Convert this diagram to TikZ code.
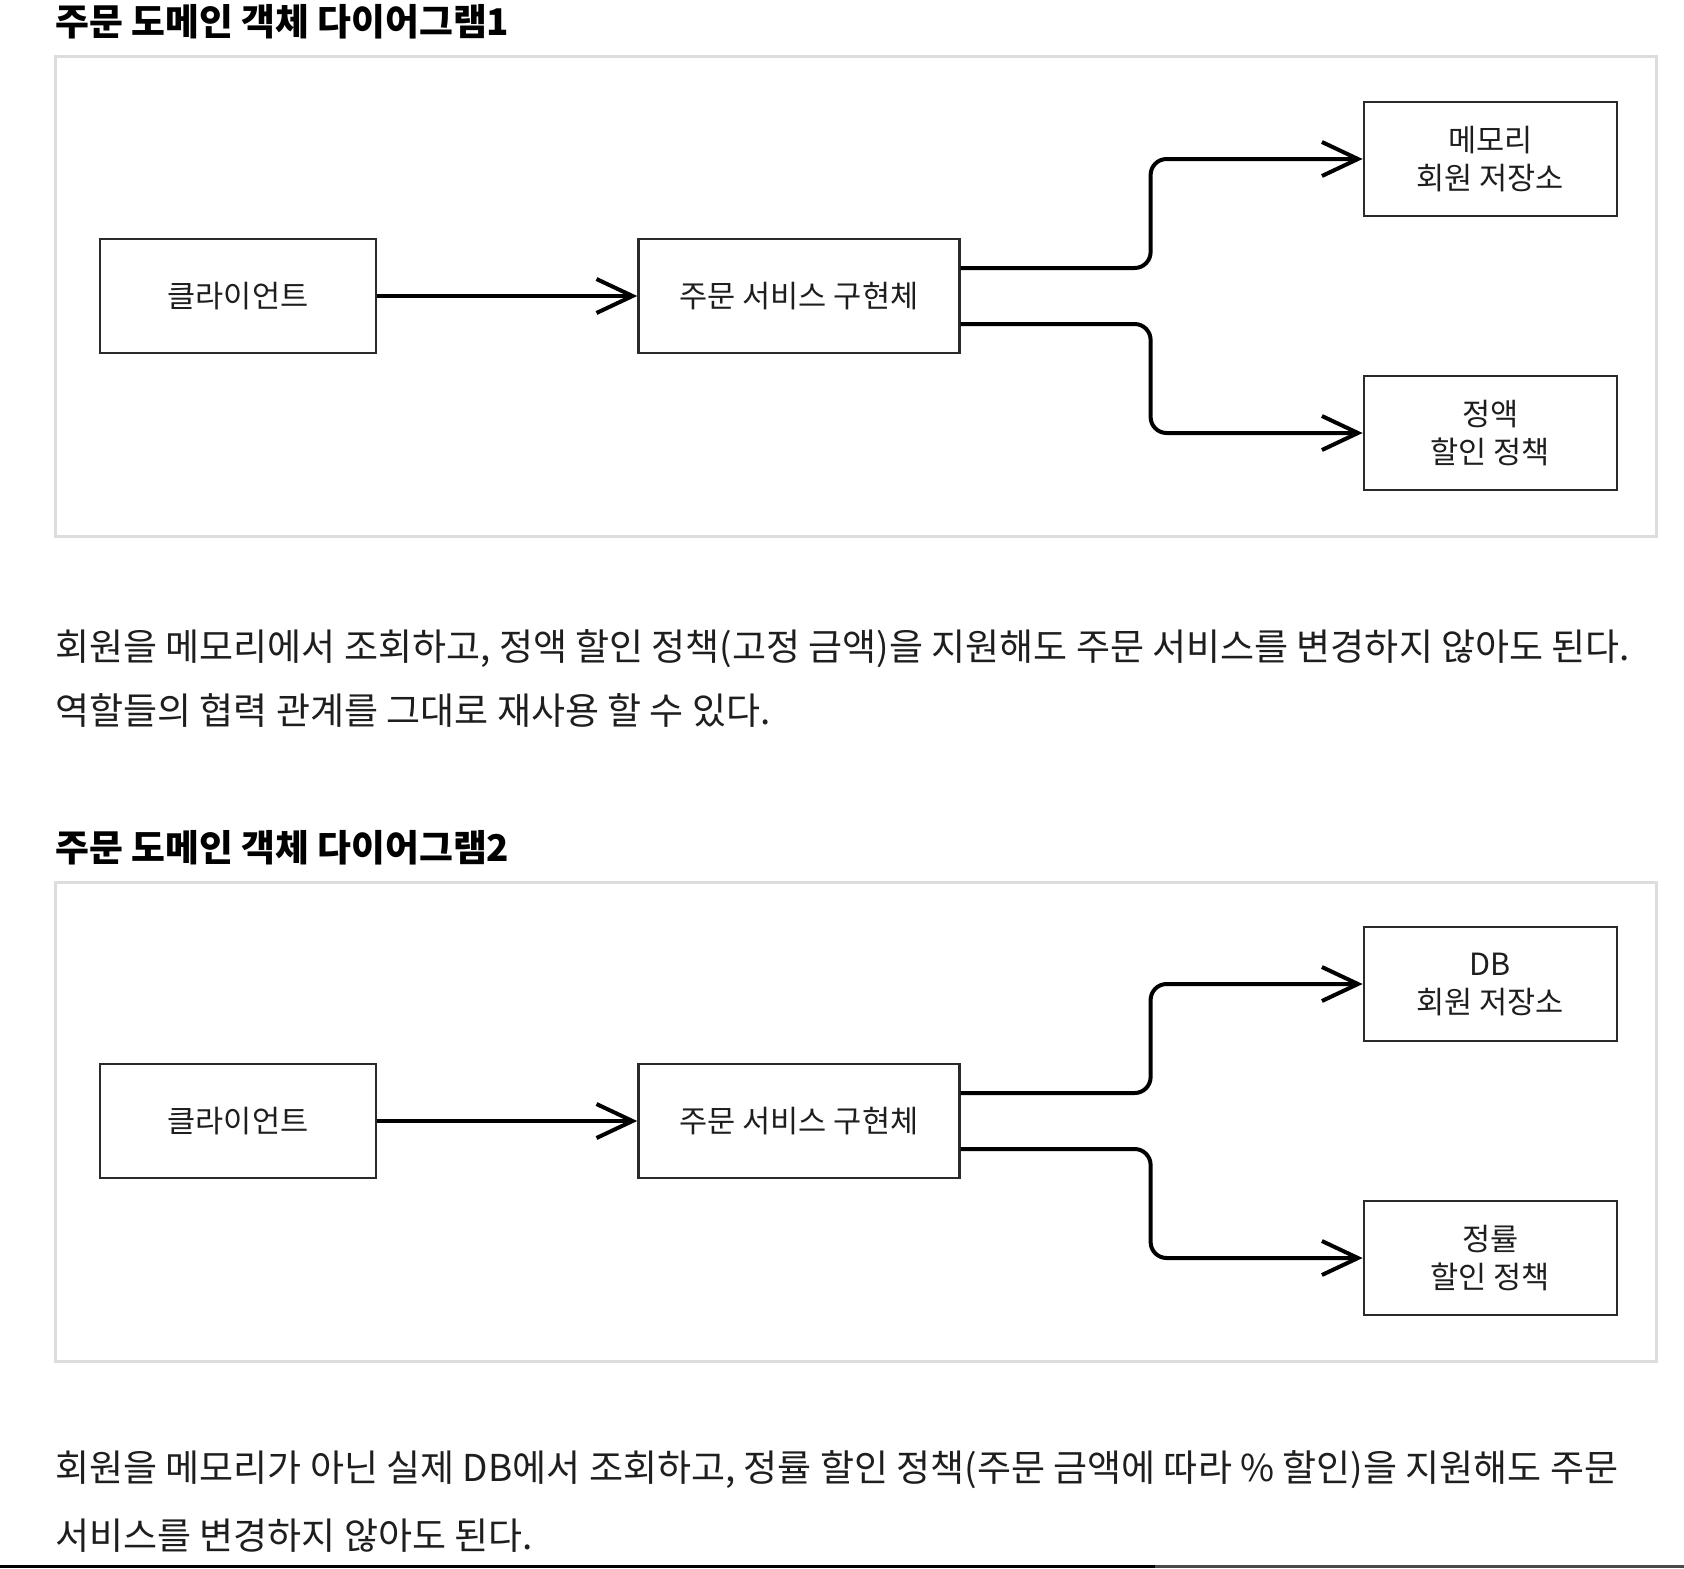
\documentclass[tikz,border=0pt]{standalone}
\usepackage{fontspec}
\setmainfont{Noto Sans CJK KR}
\usetikzlibrary{arrows.meta, positioning}
\definecolor{panelgray}{HTML}{DDDDDD}
\definecolor{boxline}{HTML}{2A2A2A}
\definecolor{inktext}{HTML}{1E1E1E}
\definecolor{barrest}{HTML}{4A4A4A}

\begin{document}
\begin{tikzpicture}[x=0.5pt, y=-0.5pt,
    node distance=130pt,
    box/.style={rectangle, draw=boxline, line width=1.2pt,
                minimum width=138pt, minimum height=57pt,
                text centered, align=center, text=inktext,
                font=\fontsize{15.3pt}{19pt}\selectfont},
    store/.style={box, minimum width=126.5pt},
    panel/.style={draw=panelgray, line width=1.5pt},
    arr/.style={-{Straight Barb[length=18pt, width=17pt]}, line width=2pt},
    heading/.style={anchor=base west, inner sep=0pt,
                    font=\fontsize{18.4pt}{22pt}\selectfont\bfseries},
    para/.style={anchor=base west, inner sep=0pt, text=inktext,
                 font=\fontsize{18.5pt}{22pt}\selectfont}
  ]
  \useasboundingbox (0,0) rectangle (1684,1568);

  % diagram 1
  \node[heading] (title1) at (55,36) {주문 도메인 객체 다이어그램1};
  \draw[panel] (55,57) rectangle (1656,536);
  \node[box] (cli1) at (238,296) {클라이언트};
  \node[box, minimum width=160.5pt, right=130pt of cli1] (svc1) {주문 서비스 구현체};
  \node[store, right=201pt of svc1.east, yshift=68.5pt] (mem1) {메모리\\회원 저장소};
  \node[store, right=201pt of svc1.east, yshift=-68.5pt] (pol1) {정액\\할인 정책};
  \draw[arr] (cli1) -- (svc1);
  \draw[arr, rounded corners=8pt] ([yshift=14pt]svc1.east) -- ++(95pt,0) |- (mem1.west);
  \draw[arr, rounded corners=8pt] ([yshift=-14pt]svc1.east) -- ++(95pt,0) |- (pol1.west);

  \node[para] (txt1a) at (55,660) {회원을 메모리에서 조회하고, 정액 할인 정책(고정 금액)을 지원해도 주문 서비스를 변경하지 않아도 된다.};
  \node[para] (txt1b) at (55,724) {역할들의 협력 관계를 그대로 재사용 할 수 있다.};

  % diagram 2
  \node[heading] (title2) at (55,861) {주문 도메인 객체 다이어그램2};
  \draw[panel] (55,882) rectangle (1656,1361);
  \node[box] (cli2) at (238,1121) {클라이언트};
  \node[box, minimum width=160.5pt, right=130pt of cli2] (svc2) {주문 서비스 구현체};
  \node[store, right=201pt of svc2.east, yshift=68.5pt] (mem2) {DB\\회원 저장소};
  \node[store, right=201pt of svc2.east, yshift=-68.5pt] (pol2) {정률\\할인 정책};
  \draw[arr] (cli2) -- (svc2);
  \draw[arr, rounded corners=8pt] ([yshift=14pt]svc2.east) -- ++(95pt,0) |- (mem2.west);
  \draw[arr, rounded corners=8pt] ([yshift=-14pt]svc2.east) -- ++(95pt,0) |- (pol2.west);

  \node[para] (txt2a) at (55,1481) {회원을 메모리가 아닌 실제 DB에서 조회하고, 정률 할인 정책(주문 금액에 따라 \% 할인)을 지원해도 주문};
  \node[para] (txt2b) at (55,1549) {서비스를 변경하지 않아도 된다.};

  % page edge
  \fill (0,1565) rectangle (1155,1568);
  \fill[barrest] (1155,1565) rectangle (1684,1568);
\end{tikzpicture}
\end{document}
